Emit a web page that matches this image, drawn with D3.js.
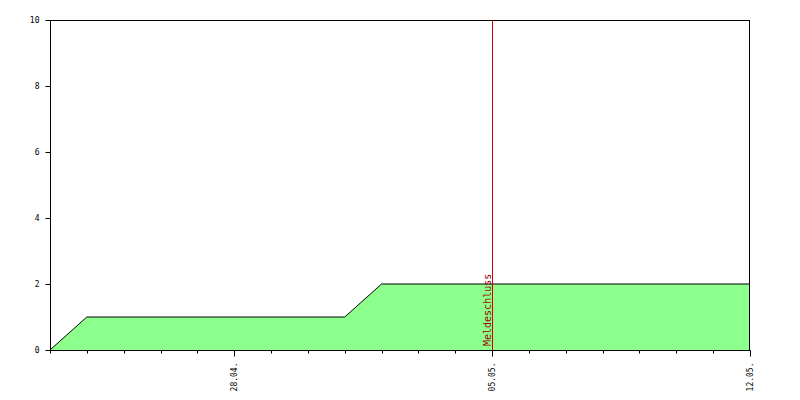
<!DOCTYPE html>
<html><head><meta charset="utf-8">
<script src="https://cdn.jsdelivr.net/npm/d3@7"></script>
<style>body{margin:0;background:#fff}svg{display:block}</style>
</head><body>
<svg id="c" width="800" height="400"></svg>
<script>
const dates = ["2024-04-23","2024-04-24","2024-05-01","2024-05-02","2024-05-12"];
const values = [0,1,1,2,2];
const xDomain = ["2024-04-23","2024-05-12"];
const majorTicks = ["2024-04-28","2024-05-05","2024-05-12"];
const yTicks = [0,2,4,6,8,10];
const markerDate = "2024-05-05";
const markerLabel = "Meldeschluss";

const parse = d3.utcParse("%Y-%m-%d");
const fmt = d3.utcFormat("%d.%m.");
const svg = d3.select("#c");
const L=50,R=750,T=20,B=350;
const x = d3.scaleUtc().domain(xDomain.map(parse)).range([L,R]);
const y = d3.scaleLinear().domain([0,10]).range([B,T]);
const data = dates.map((d,i)=>({d:parse(d),v:values[i]}));

svg.append("path").datum(data)
  .attr("d", d3.area().x(d=>x(d.d)).y0(y(0)).y1(d=>y(d.v)))
  .attr("fill","#8cff8c");
svg.append("path").datum(data)
  .attr("d", d3.line().x(d=>x(d.d)).y(d=>y(d.v)))
  .attr("fill","none").attr("stroke","#000").attr("stroke-width",1);

// frame
svg.append("rect").attr("x",L+0.5).attr("y",T+0.5).attr("width",R-L-1).attr("height",B-T)
  .attr("fill","none").attr("stroke","#000").attr("stroke-width",1);

// marker
const mx = Math.round(x(parse(markerDate)))+0.5;
svg.append("line").attr("x1",mx).attr("x2",mx).attr("y1",T).attr("y2",B)
  .attr("stroke","#cc0000").attr("stroke-width",1);
svg.append("text").attr("transform",`translate(${mx-2},${B-4}) rotate(-90)`)
  .attr("font-family","DejaVu Sans Mono").attr("font-size",10).attr("fill","#a00000")
  .text(markerLabel);

const font = "DejaVu Sans Mono";
// y axis
const yAxis = d3.axisLeft(y).tickValues(yTicks).tickSize(5).tickPadding(6);
const gy = svg.append("g").attr("transform",`translate(${L+0.5},0)`).call(yAxis);
gy.select(".domain").remove();
gy.selectAll("text").attr("font-family",font).attr("font-size",8).attr("fill","#000");
gy.selectAll("line").attr("stroke","#000");

// x minor ticks
const minor = d3.axisBottom(x).ticks(d3.utcDay.every(1)).tickSize(3).tickFormat("");
const gm = svg.append("g").attr("transform",`translate(0,${B+0.5})`).call(minor);
gm.select(".domain").remove();
gm.selectAll("line").attr("stroke","#000");
gm.selectAll(".tick").attr("transform",d=>`translate(${Math.round(x(d))+0.5},0)`);

// x major ticks
const major = d3.axisBottom(x).tickValues(majorTicks.map(parse)).tickSize(6).tickFormat(fmt);
const gx = svg.append("g").attr("transform",`translate(0,${B+0.5})`).call(major);
gx.select(".domain").remove();
gx.selectAll(".tick").attr("transform",d=>`translate(${Math.round(x(d))+0.5},0)`);
gx.selectAll("line").attr("stroke","#000");
gx.selectAll("text").attr("font-family",font).attr("font-size",8).attr("fill","#000")
  .attr("transform","rotate(-90)").attr("text-anchor","end")
  .attr("x",-12).attr("y",0).attr("dy","0.32em");
</script>
</body></html>
